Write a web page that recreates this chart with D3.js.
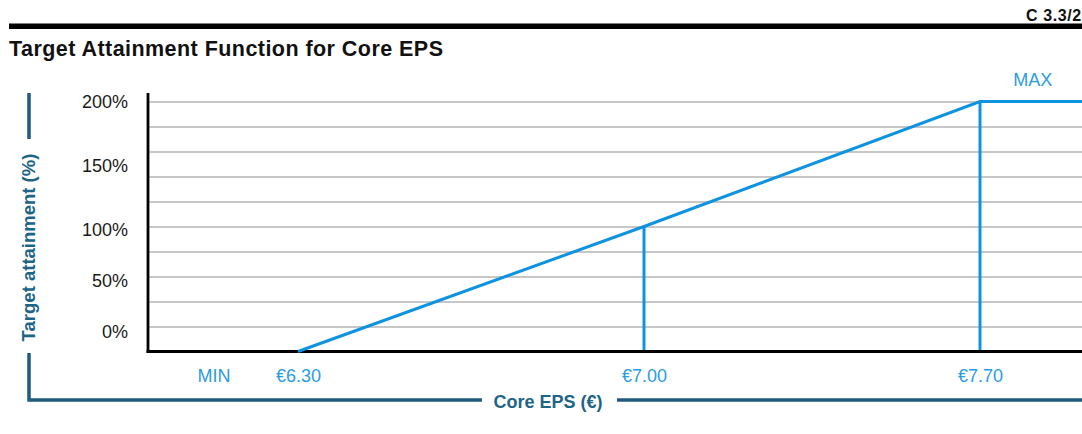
<!DOCTYPE html>
<html>
<head>
<meta charset="utf-8">
<script src="https://cdn.jsdelivr.net/npm/d3@7"></script>
<style>
  html, body { margin: 0; padding: 0; background: #fff; }
  svg { display: block; font-family: "Liberation Sans", Arial, Helvetica, sans-serif; }
</style>
</head>
<body>
<svg id="chart" width="1082" height="434"></svg>
<script>
// ---- data ----
const chartTitle = "Target Attainment Function for Core EPS";
const chartCode = "C 3.3/2";
const yAxisTitle = "Target attainment (%)";
const xAxisTitle = "Core EPS (€)";
const epsValues = [6.30, 7.00, 7.70, 7.95];        // Core EPS (€)
const attainment = [0, 100, 200, 200];             // Target attainment (%)
const dropEps = [7.00, 7.70];                      // vertical reference lines
const xTickValues = [6.30, 7.00, 7.70];
const xTickLabels = ["€6.30", "€7.00", "€7.70"];
const yTickValues = [0, 50, 100, 150, 200];
const yTickLabels = ["0%", "50%", "100%", "150%", "200%"];
const annotations = [
  { text: "MIN", eps: 6.13, pos: "bottom" },
  { text: "MAX", eps: 7.81, pos: "top" }
];

// ---- layout ----
const W = 1082, H = 434;
const plotLeft = 148, plotRight = 1082, plotTop = 101.5, plotBottom = 351.5;
const blue = "#0f93e0", blueText = "#2a9de2", teal = "#1f5c7e", tealText = "#1d6586";

const svg = d3.select("#chart");

const x = d3.scaleLinear().domain([6.3, 7.0, 7.7]).range([298, 644, 980]);
const y = d3.scaleLinear().domain([0, 200]).range([plotBottom, plotTop]);
// tick labels on the original sit on an uneven vertical spacing
const yLabel = d3.scaleLinear().domain([0, 100, 200]).range([y(16.4), y(97.8), y(200)]);

// header rule and code
svg.append("rect").attr("x", 9).attr("y", 23.5).attr("width", W - 9).attr("height", 5.5).attr("fill", "#000");
svg.append("text").attr("x", 1026).attr("y", 20.5).attr("font-size", 16).attr("font-weight", "bold")
  .attr("letter-spacing", 0.6).attr("fill", "#111").text(chartCode);

// title
svg.append("text").attr("x", 9).attr("y", 55.5).attr("font-size", 21.5).attr("font-weight", "bold")
  .attr("letter-spacing", 0.45).attr("fill", "#111").text(chartTitle);

// gridlines
const grid = svg.append("g")
  .attr("transform", `translate(${plotLeft},0)`)
  .call(d3.axisLeft(y).ticks(10).tickSize(-(plotRight - plotLeft)).tickFormat(""));
grid.select(".domain").remove();
grid.selectAll(".tick line").attr("stroke", "#b5b5b5").attr("stroke-width", 1.3);
grid.selectAll(".tick").filter(d => d === 0).remove();

// y tick labels
const yAx = svg.append("g")
  .attr("transform", `translate(${plotLeft - 20},0)`)
  .call(d3.axisLeft(yLabel).tickValues(yTickValues).tickSize(0).tickPadding(0)
    .tickFormat((d, i) => yTickLabels[i]));
yAx.select(".domain").remove();
yAx.selectAll("text").attr("font-size", 18).attr("fill", "#1a1a1a")
  .attr("font-family", "'Liberation Sans', Arial, sans-serif").attr("dy", "0.35em");

// axes lines
svg.append("line").attr("x1", plotLeft).attr("x2", plotLeft).attr("y1", plotTop - 8.5).attr("y2", plotBottom + 1.5)
  .attr("stroke", "#000").attr("stroke-width", 2.8);
svg.append("line").attr("x1", plotLeft - 1.4).attr("x2", plotRight).attr("y1", plotBottom).attr("y2", plotBottom)
  .attr("stroke", "#000").attr("stroke-width", 3);

// drop lines
svg.append("g").selectAll("line").data(dropEps).join("line")
  .attr("x1", d => x(d)).attr("x2", d => x(d))
  .attr("y1", d => y(attainment[epsValues.indexOf(d)]))
  .attr("y2", plotBottom - 1.5)
  .attr("stroke", blue).attr("stroke-width", 3);

// attainment line
const pts = epsValues.map((e, i) => [x(e), y(attainment[i])]);
svg.append("path").attr("d", d3.line()(pts)).attr("fill", "none")
  .attr("stroke", blue).attr("stroke-width", 3).attr("stroke-linejoin", "miter");

// x tick labels
const xAx = svg.append("g")
  .attr("transform", `translate(0,${plotBottom})`)
  .call(d3.axisBottom(x).tickValues(xTickValues).tickSize(0).tickPadding(0)
    .tickFormat((d, i) => xTickLabels[i]));
xAx.select(".domain").remove();
xAx.selectAll("text").attr("font-size", 18).attr("fill", blueText)
  .attr("font-family", "'Liberation Sans', Arial, sans-serif").attr("dy", null).attr("y", 30);

// annotations
svg.append("g").selectAll("text").data(annotations).join("text")
  .attr("x", d => x(d.eps))
  .attr("y", d => d.pos === "bottom" ? plotBottom + 30 : plotTop - 15.5)
  .attr("text-anchor", "middle").attr("font-size", 18).attr("fill", blueText)
  .text(d => d.text);

// brackets
const bx = 29;
svg.append("path")
  .attr("d", `M${bx},${plotTop - 8.5}V139 M${bx},${plotBottom + 1.5}V400H482 M617,400H${W}`)
  .attr("fill", "none").attr("stroke", teal).attr("stroke-width", 3.5);

// axis titles
svg.append("text").attr("transform", `translate(${bx},${247.5}) rotate(-90)`)
  .attr("text-anchor", "middle").attr("dy", "0.35em").attr("font-size", 18.5).attr("font-weight", "bold")
  .attr("fill", tealText).text(yAxisTitle);
svg.append("text").attr("x", 548).attr("y", 407.5)
  .attr("text-anchor", "middle").attr("font-size", 18).attr("font-weight", "bold")
  .attr("fill", tealText).text(xAxisTitle);
</script>
</body>
</html>
